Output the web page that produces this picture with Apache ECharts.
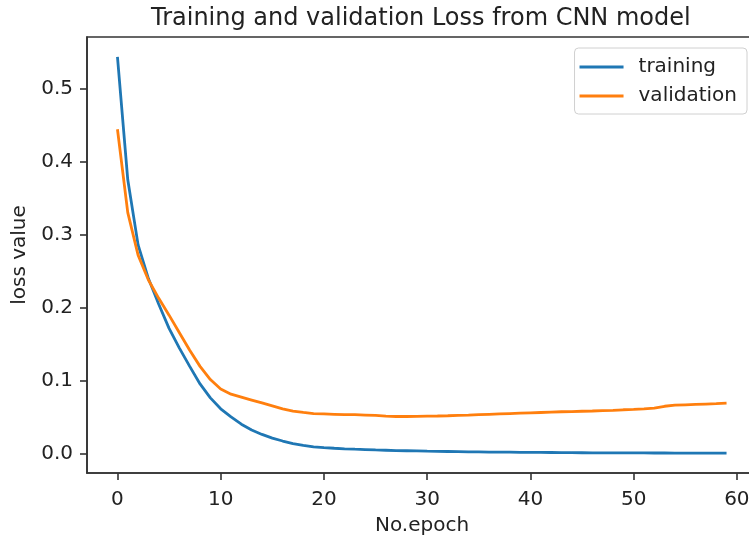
<!DOCTYPE html>
<html>
<head>
<meta charset="utf-8">
<title>CNN loss</title>
<script src="https://cdn.jsdelivr.net/npm/echarts@6/dist/echarts.min.js"></script>
<style>
    html,body{margin:0;padding:0;background:#fff;}
    #main{width:749px;height:539px;}
</style>
</head>
<body>
<div id="main"></div>
<script>
//轮次
let epochs = [0,1,2,3,4,5,6,7,8,9,10,11,12,13,14,15,16,17,18,19,
    20,21,22,23,24,25,26,27,28,29,30,31,32,33,34,35,36,37,38,39,
    40,41,42,43,44,45,46,47,48,49,50,51,52,53,54,55,56,57,58,59]
//训练集loss
let trainLoss = [0.543,0.375,0.286,0.240,0.205,0.172,0.145,0.120,0.096,0.077,
    0.062,0.051,0.041,0.033,0.027,0.022,0.018,0.0145,0.012,0.010,
    0.009,0.0081,0.0074,0.0068,0.0063,0.0058,0.0054,0.0050,0.0047,0.0044,
    0.0041,0.0039,0.0037,0.0035,0.0033,0.0031,0.0029,0.0028,0.0027,0.0026,
    0.0025,0.0024,0.0023,0.0022,0.0021,0.0020,0.0019,0.0019,0.0018,0.0018,
    0.0017,0.0017,0.0016,0.0016,0.0015,0.0015,0.0015,0.0014,0.0014,0.0014]
//验证集loss
let valLoss = [0.444,0.330,0.272,0.238,0.213,0.190,0.166,0.142,0.120,0.102,
    0.089,0.082,0.078,0.074,0.070,0.066,0.062,0.059,0.057,0.0555,
    0.055,0.0545,0.054,0.054,0.0535,0.053,0.052,0.0515,0.0515,0.0518,
    0.052,0.0522,0.0525,0.053,0.0533,0.054,0.0545,0.055,0.0555,0.056,
    0.0565,0.057,0.0575,0.058,0.0583,0.0587,0.059,0.0595,0.060,0.0607,
    0.0613,0.062,0.063,0.0655,0.067,0.0675,0.068,0.0685,0.069,0.0697]
//刻度
let xTicks = [0,10,20,30,40,50,60]
let yTicks = [0.0,0.1,0.2,0.3,0.4,0.5]

let font = 'DejaVu Sans'
let textColor = '#222'
let axisColor = '#333'

//拼成 [x,y]
let trainData = epochs.map((e, i) => [e, trainLoss[i]])
let valData = epochs.map((e, i) => [e, valLoss[i]])

let myChart = echarts.init(document.getElementById('main'), null, {renderer: 'canvas'})
let option = {
    backgroundColor: '#fff',
    animation: false,
    title: {
        text: 'Training and validation Loss from CNN model',
        left: 151,
        top: 7,
        padding: 0,
        textStyle: {fontFamily: font, fontSize: 24, fontWeight: 'normal', color: textColor}
    },
    legend: {
        orient: 'vertical',
        right: 2,
        top: 48,
        padding: [9, 10, 8, 5],
        itemGap: 9,
        itemWidth: 44,
        itemHeight: 3,
        icon: 'rect',
        borderColor: '#d0d0d0',
        borderWidth: 1,
        borderRadius: 4,
        textStyle: {fontFamily: font, fontSize: 20, color: textColor, padding: [0, 0, 0, 10]},
        data: ['training', 'validation']
    },
    grid: {
        left: 87,
        right: -8,
        top: 37,
        bottom: 66,
        show: true,
        borderColor: axisColor,
        borderWidth: 1.6,
        containLabel: false,
        //v6 默认会把网格往里缩，这里关掉
        outerBoundsMode: 'none'
    },
    xAxis: {
        type: 'value',
        min: -2.95,
        max: 61.95,
        name: 'No.epoch',
        nameLocation: 'middle',
        nameGap: 43,
        nameTextStyle: {fontFamily: font, fontSize: 20, color: textColor},
        axisLine: {show: true, onZero: false, lineStyle: {color: axisColor, width: 1.6}},
        axisTick: {show: true, length: 7, lineStyle: {color: axisColor, width: 1.6}, customValues: xTicks},
        axisLabel: {fontFamily: font, fontSize: 20, color: textColor, margin: 17, customValues: xTicks},
        splitLine: {show: false}
    },
    yAxis: {
        type: 'value',
        min: -0.0257,
        max: 0.5701,
        name: 'loss value',
        nameLocation: 'middle',
        nameGap: 56,
        nameTextStyle: {fontFamily: font, fontSize: 20, color: textColor},
        axisLine: {show: true, onZero: false, lineStyle: {color: axisColor, width: 1.6}},
        axisTick: {show: true, length: 7, lineStyle: {color: axisColor, width: 1.6}, customValues: yTicks},
        axisLabel: {
            fontFamily: font, fontSize: 20, color: textColor, margin: 14,
            customValues: yTicks,
            formatter: v => v.toFixed(1)
        },
        splitLine: {show: false}
    },
    series: [
        {
            name: 'training',
            type: 'line',
            data: trainData,
            symbol: 'none',
            smooth: false,
            lineStyle: {color: '#1f77b4', width: 2.8},
            itemStyle: {color: '#1f77b4'}
        },
        {
            name: 'validation',
            type: 'line',
            data: valData,
            symbol: 'none',
            smooth: false,
            lineStyle: {color: '#ff7f0e', width: 2.8},
            itemStyle: {color: '#ff7f0e'}
        }
    ]
}
myChart.setOption(option)
</script>
</body>
</html>
